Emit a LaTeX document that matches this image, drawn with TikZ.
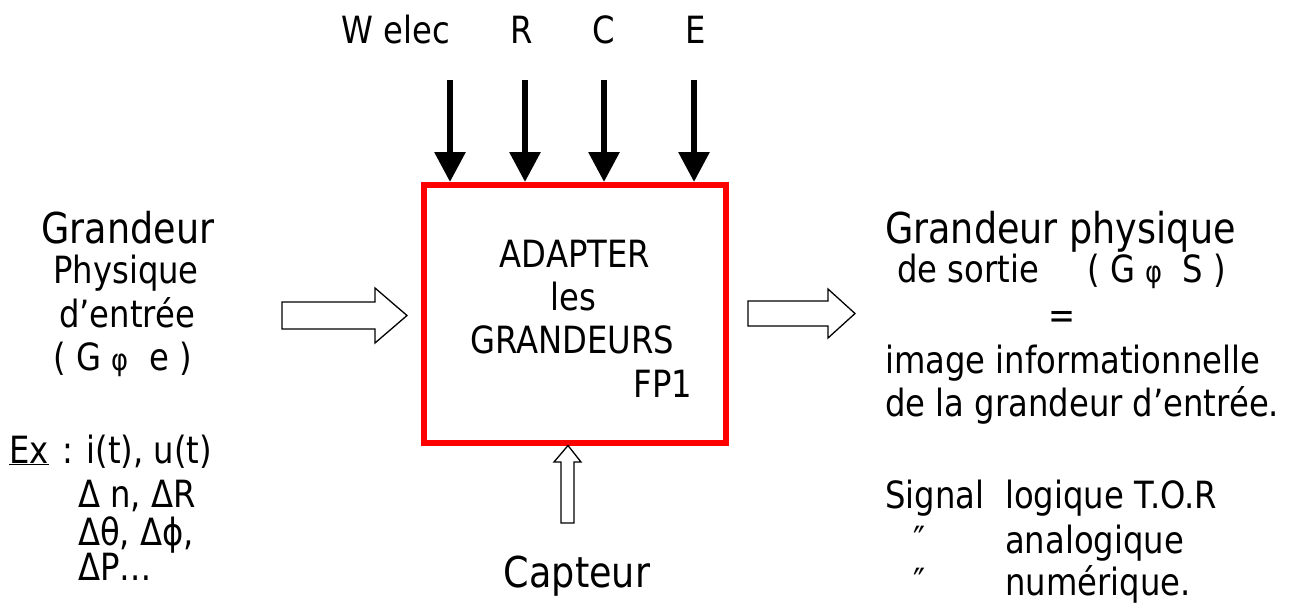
\documentclass[tikz,border=0pt]{standalone}
\usepackage{fontspec}
\setmainfont[FakeStretch=0.86]{DejaVu Sans}
\usetikzlibrary{arrows.meta}
\tikzset{
  gros/.style={font=\fontsize{42.5}{48}\selectfont, inner sep=0pt},
  moyen/.style={font=\fontsize{37.5}{42}\selectfont, inner sep=0pt},
  fleche/.style={line width=6pt, -{Triangle[width=30pt,length=30pt]}},
  creuse/.style={draw, line width=1.3pt, fill=white},
}
\newcommand{\petit}[1]{{\fontsize{30}{34}\selectfont #1}}
\begin{document}
\begin{tikzpicture}[x=1pt,y=-1pt]
\useasboundingbox (0,0) rectangle (1292,603);
% bloc FP1
\node[draw=red, line width=6pt, minimum width=302pt, minimum height=257.5pt] (fp) at (575,313.75) {};
\node[moyen, anchor=base] (adapter) at (575,267) {ADAPTER};
\node[moyen, anchor=base] (les) at (573,310) {les};
\node[moyen, anchor=base] (grandeurs) at (572,353) {GRANDEURS};
\node[moyen, anchor=base] (fp1) at (663,397) {FP1};
% energies du haut
\foreach \x/\nom/\lx/\texte in {450/we/396/W elec, 525/r/522/R, 604/c/604/C, 694/e/696/E}{
  \node[moyen, anchor=base] (l\nom) at (\lx,43) {\texte};
  \coordinate (a\nom) at (\x,80);
  \draw[fleche] (a\nom) -- (a\nom |- fp.north);
}
% fleches creuses
\draw[creuse] (282,302) -- (375,302) -- (375,288) -- (407,315.5) -- (375,343) -- (375,329) -- (282,329) -- cycle;
\draw[creuse] (748,301) -- (828,301) -- (828,289) -- (855,313.5) -- (828,338) -- (828,326) -- (748,326) -- cycle;
\draw[creuse] (561,523) -- (561,462) -- (554,462) -- (568,445.5) -- (581,462) -- (574,462) -- (574,523) -- cycle; % capteur
\node[gros, anchor=base] (capteur) at (577,587) {Capteur};
% entree
\node[gros, anchor=base] (gdr) at (128,243) {Grandeur};
\node[moyen, anchor=base] (phys) at (126,283) {Physique};
\node[moyen, anchor=base] (dent) at (127,327) {d’entrée};
\node[moyen, anchor=base] (gpe) at (123,370) {( G \petit{φ}\ \ e )};
\node[moyen, anchor=base west] (ex) at (9,463) {\underline{Ex}\hspace{14pt}:\hspace{13pt}i(t), u(t)};
\node[moyen, anchor=base west] (dn) at (78,507) {Δ n, ΔR};
\node[moyen, anchor=base west] (dth) at (78,545) {Δθ, Δϕ,};
\node[moyen, anchor=base west] (dp) at (78,580) {ΔP…};
% sortie
\node[gros, anchor=base west] (gps) at (885,243) {Grandeur physique};
\node[moyen, anchor=base west] (sortie) at (897,282) {de sortie};
\node[moyen, anchor=base west] (gphis) at (1087,282) {( G \petit{φ}\ \ S )};
\node[moyen, anchor=base] (egal) at (1062,328) {=};
\node[moyen, anchor=base west] (image) at (885,373) {image informationnelle};
\node[moyen, anchor=base west] (delagr) at (885,416) {de la grandeur d’entrée.};
\node[moyen, anchor=base west] (signal) at (885,508) {Signal};
\node[moyen, anchor=base west] (tor) at (1005,508) {logique T.O.R};
\node[moyen, anchor=base] (id1) at (920,553) {″};
\node[moyen, anchor=base west] (ana) at (1005,553) {analogique};
\node[moyen, anchor=base] (id2) at (920,595) {″};
\node[moyen, anchor=base west] (num) at (1005,595) {numérique.};
\end{tikzpicture}
\end{document}
